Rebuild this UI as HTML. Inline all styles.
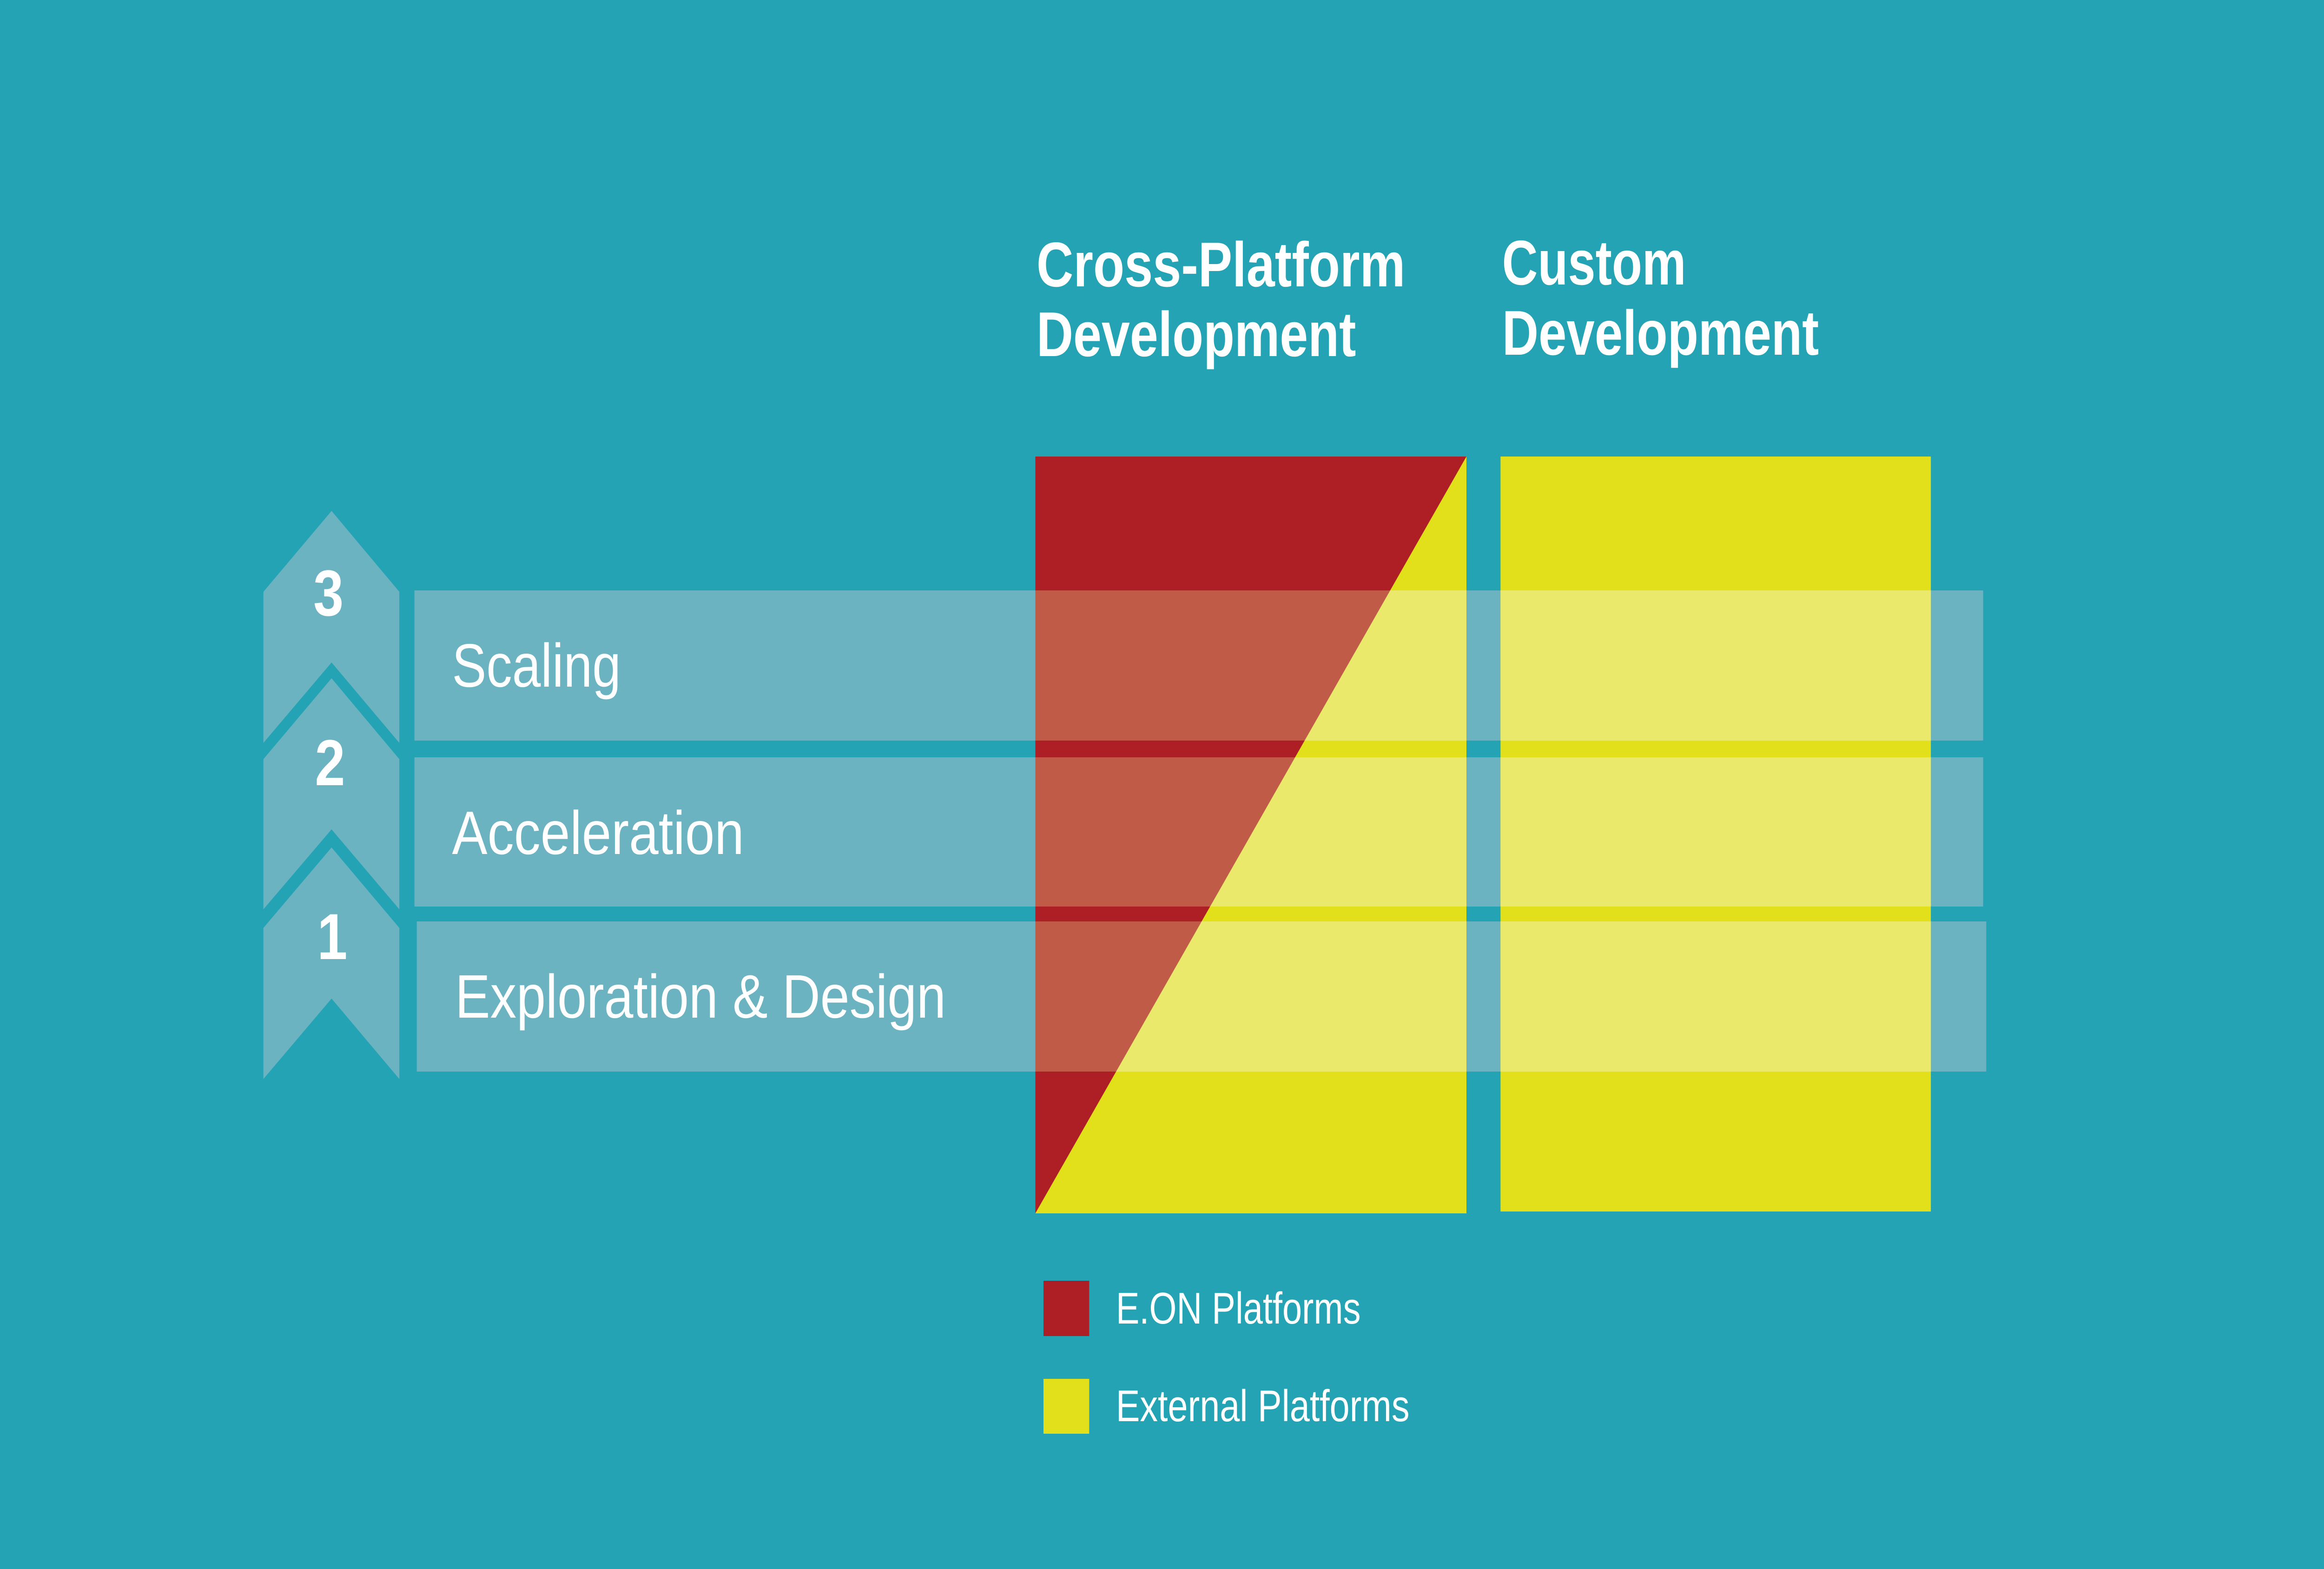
<!DOCTYPE html>
<html><head><meta charset="utf-8"><style>
html,body{margin:0;padding:0;background:#23a3b3;width:100%;height:100%;overflow:hidden;}
svg{display:block;position:fixed;left:0;top:0;width:100vw;height:100vh;}
text{font-family:"Liberation Sans",sans-serif;fill:#fff;}
::-webkit-scrollbar{display:none;}
</style></head><body>
<svg viewBox="0 0 6000 3375" preserveAspectRatio="none" xmlns="http://www.w3.org/2000/svg">
<defs>
<clipPath id="bars">
<rect x="1070" y="1270" width="4050" height="323"/>
<rect x="1070" y="1629" width="4050" height="321"/>
<rect x="1076" y="1982" width="4052" height="323"/>
</clipPath>
</defs>
<rect width="6000" height="3375" fill="#23a3b3"/>
<text x="2676" y="616" font-size="136" font-weight="bold" textLength="952" lengthAdjust="spacingAndGlyphs">Cross-Platform</text>
<text x="2676" y="766" font-size="136" font-weight="bold" textLength="825" lengthAdjust="spacingAndGlyphs">Development</text>
<text x="3878" y="612" font-size="136" font-weight="bold" textLength="475" lengthAdjust="spacingAndGlyphs">Custom</text>
<text x="3878" y="763" font-size="136" font-weight="bold" textLength="818" lengthAdjust="spacingAndGlyphs">Development</text>
<g fill="#6bb3c1">
<polygon points="680,1273 856,1099 1031,1273 1031,1598 856,1425 680,1598"/>
<polygon points="680,1633 856,1459 1031,1633 1031,1956 856,1784 680,1956"/>
<polygon points="680,1996 856,1823 1031,1996 1031,2321 856,2148 680,2321"/>
</g>
<g font-weight="bold" font-size="140" text-anchor="middle">
<text x="848" y="1324">3</text>
<text x="852" y="1689">2</text>
<text x="858" y="2063">1</text>
</g>
<g fill="#6bb3c1">
<rect x="1070" y="1270" width="4050" height="323"/>
<rect x="1070" y="1629" width="4050" height="321"/>
<rect x="1076" y="1982" width="4052" height="323"/>
</g>
<rect x="2673" y="982" width="1113" height="1628" fill="#e2e01a"/>
<polygon points="2673,982 3786,982 2673,2610" fill="#ae1f25"/>
<rect x="3874" y="982" width="1111" height="1624" fill="#e2e01a"/>
<g clip-path="url(#bars)">
<rect x="2673" y="982" width="1113" height="1628" fill="#eae96b"/>
<polygon points="2673,982 3786,982 2673,2610" fill="#c05b48"/>
<rect x="3874" y="982" width="1111" height="1624" fill="#eae96b"/>
</g>
<g font-size="132">
<text x="1167" y="1477" textLength="436" lengthAdjust="spacingAndGlyphs">Scaling</text>
<text x="1167" y="1837" textLength="754" lengthAdjust="spacingAndGlyphs">Acceleration</text>
<text x="1175" y="2189" textLength="1267" lengthAdjust="spacingAndGlyphs">Exploration &amp; Design</text>
</g>
<rect x="2694" y="2755" width="118" height="119" fill="#ae1f25"/>
<rect x="2694" y="2966" width="118" height="118" fill="#e2e01a"/>
<g font-size="96">
<text x="2881" y="2847" textLength="632" lengthAdjust="spacingAndGlyphs">E.ON Platforms</text>
<text x="2881" y="3057" textLength="758" lengthAdjust="spacingAndGlyphs">External Platforms</text>
</g>
</svg>
</body></html>
